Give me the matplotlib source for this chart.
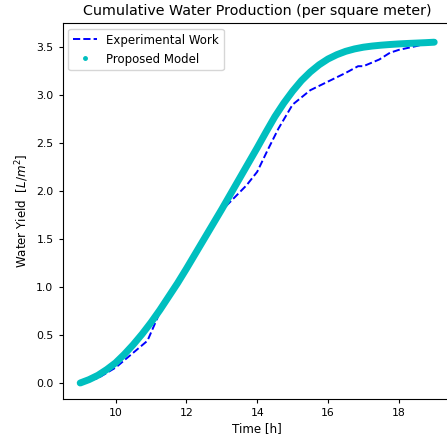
import matplotlib
matplotlib.use("Agg")
import matplotlib.pyplot as plt
from matplotlib.lines import Line2D

# Proposed model
t_model = [9.0, 9.25, 9.5, 9.75, 10.0, 10.25, 10.5, 10.75, 11.0, 11.25, 11.5,
           11.75, 12.0, 12.25, 12.5, 12.75, 13.0, 13.25, 13.5, 13.75, 14.0,
           14.25, 14.5, 14.75, 15.0, 15.25, 15.5, 15.75, 16.0, 16.25, 16.5,
           16.75, 17.0, 17.25, 17.5, 17.75, 18.0, 18.25, 18.5, 18.75, 19.0]
y_model = [0.0, 0.035, 0.08, 0.14, 0.21, 0.30, 0.40, 0.51, 0.63, 0.76, 0.90,
           1.04, 1.19, 1.345, 1.50, 1.655, 1.81, 1.97, 2.13, 2.29, 2.45,
           2.615, 2.775, 2.915, 3.04, 3.15, 3.24, 3.315, 3.375, 3.42, 3.455,
           3.48, 3.498, 3.51, 3.519, 3.526, 3.532, 3.537, 3.541, 3.545, 3.55]

# Experimental work
t_exp = [9.0, 9.5, 10.0, 10.9, 11.35, 12.0, 12.5, 12.95, 13.3, 13.7, 14.0, 14.3,
         14.6, 15.0, 15.5, 16.0, 16.5, 16.85, 17.0, 17.45, 17.75, 18.0, 18.5, 19.0]
y_exp = [0.0, 0.05, 0.16, 0.44, 0.82, 1.19, 1.50, 1.78, 1.91, 2.06, 2.20, 2.43,
         2.65, 2.90, 3.05, 3.14, 3.23, 3.30, 3.30, 3.37, 3.44, 3.47, 3.51, 3.56]

xticks = [10, 12, 14, 16, 18]
yticks = [0.0, 0.5, 1.0, 1.5, 2.0, 2.5, 3.0, 3.5]

fig = plt.figure(figsize=(4.47, 4.42), dpi=100)
ax = fig.add_axes([62.5 / 447, (442 - 399.3) / 442, 389.4 / 447, 376.3 / 442])

ax.plot(t_exp, y_exp, '--', color='b', lw=1.4, label='Experimental Work')
ax.plot(t_model, y_model, '-', color='c', lw=5.0, solid_capstyle='round',
        solid_joinstyle='round', zorder=3)

ax.set_xlim(8.5, 19.5)
ax.set_ylim(-0.17, 3.75)
ax.set_xticks(xticks)
ax.set_yticks(yticks)
ax.tick_params(labelsize=7.8, length=3)

ax.set_title('Cumulative Water Production (per square meter)', fontsize=10.3)
ax.set_xlabel('Time [h]', fontsize=8.6, labelpad=3)
ax.set_ylabel('Water Yield  [$L/m^2$]', fontsize=8.6)

handles = [Line2D([], [], ls='--', color='b', lw=1.4),
           Line2D([], [], ls='', marker='.', color='c', markersize=5)]
ax.legend(handles, ['Experimental Work', 'Proposed Model'], loc='upper left',
          fontsize=8.5)

fig.savefig('out.png', dpi=100)
